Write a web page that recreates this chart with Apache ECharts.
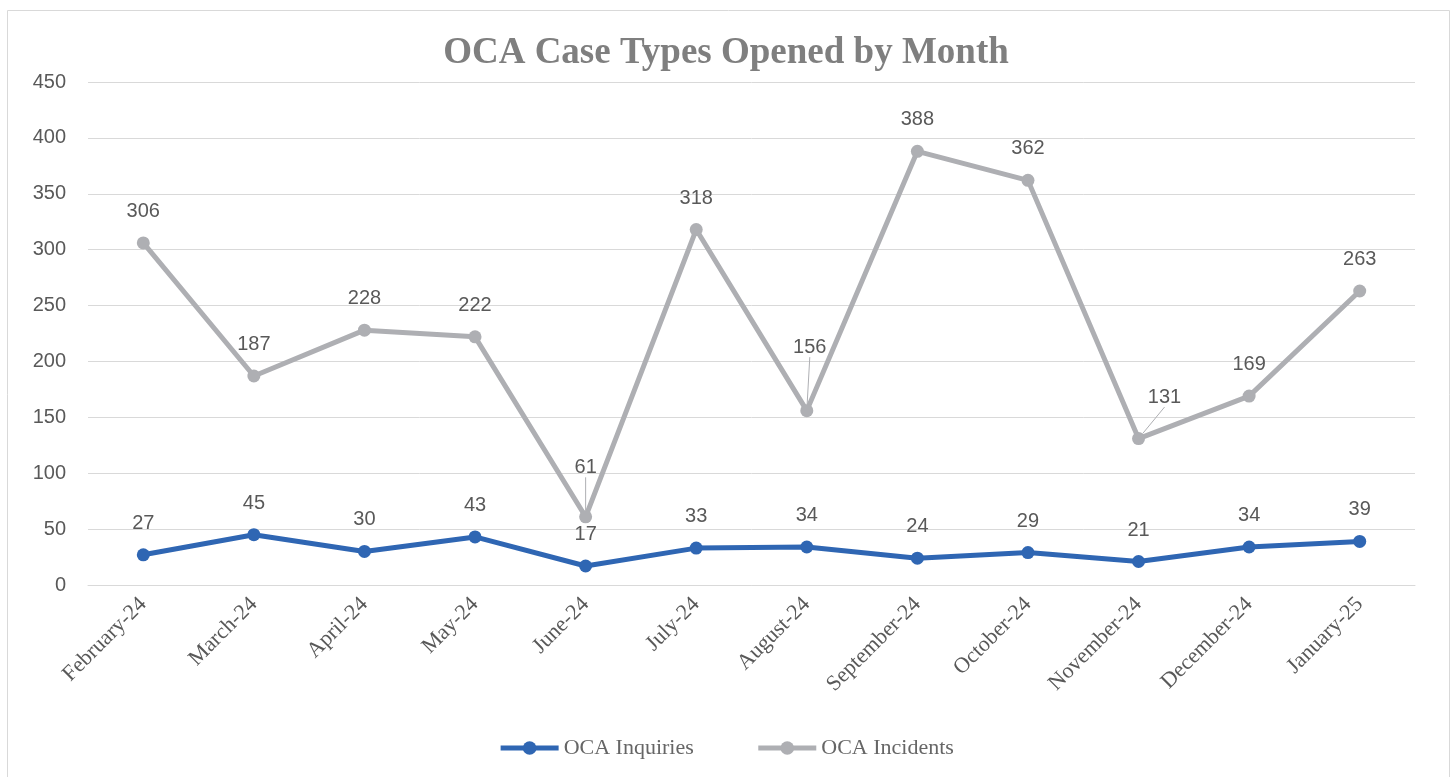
<!DOCTYPE html>
<html>
<head>
<meta charset="utf-8">
<script src="https://cdn.jsdelivr.net/npm/echarts@6/dist/echarts.min.js"></script>
<style>
  html, body { margin: 0; padding: 0; background: #fff; }
  #chart { width: 1452px; height: 777px; }
</style>
</head>
<body>
<div id="chart"></div>
<script>
// months on the x axis
const months = ['February-24', 'March-24', 'April-24', 'May-24', 'June-24', 'July-24',
  'August-24', 'September-24', 'October-24', 'November-24', 'December-24', 'January-25'];
const inquiries = [27, 45, 30, 43, 17, 33, 34, 24, 29, 21, 34, 39];
const incidents = [306, 187, 228, 222, 61, 318, 156, 388, 362, 131, 169, 263];
const yTicks = { min: 0, max: 450, step: 50 };

var chart = echarts.init(document.getElementById('chart'));

// a few incident labels are pushed off the point in the original, with a leader line
const incidentShift = { 4: { dx: 0, dy: -18 }, 6: { dx: 3, dy: -32 }, 9: { dx: 26, dy: -10 } };

function withLeaders(values, shift) {
    return values.map((v, i) => shift[i] ? { value: v, labelLine: { show: true } } : v);
}

const labelFont = { fontFamily: 'Liberation Sans', fontSize: 20, color: '#595959' };

chart.setOption({
    animation: false,
    graphic: [{
        type: 'rect', left: 5, top: 8,
        shape: { width: 1442, height: 790 },
        style: { fill: 'none', stroke: '#d9d9d9', lineWidth: 1 }
    }],
    title: {
        text: 'OCA Case Types Opened by Month',
        left: 'center', top: 30,
        textStyle: { fontFamily: 'Liberation Serif', fontWeight: 'bold', fontSize: 37, color: '#7f7f7f' }
    },
    legend: {
        bottom: 13, left: 'center', itemWidth: 58, itemHeight: 17, itemGap: 62,
        lineStyle: { width: 5 },
        textStyle: { fontFamily: 'Liberation Serif', fontSize: 22, color: '#666' }
    },
    grid: { left: 88, right: 37, top: 82, bottom: 192 },
    xAxis: {
        type: 'category', data: months,
        axisLine: { lineStyle: { color: '#d9d9d9' } },
        axisTick: { show: false },
        axisLabel: { rotate: 45, interval: 0, margin: 16, fontFamily: 'Liberation Serif', fontSize: 22, color: '#595959' }
    },
    yAxis: {
        type: 'value', min: yTicks.min, max: yTicks.max, interval: yTicks.step,
        axisLine: { show: false }, axisTick: { show: false },
        splitLine: { lineStyle: { color: '#d9d9d9' } },
        axisLabel: { margin: 22, fontFamily: 'Liberation Sans', fontSize: 20, color: '#595959' }
    },
    series: [{
        name: 'OCA Inquiries', type: 'line', data: inquiries,
        symbol: 'circle', symbolSize: 13,
        lineStyle: { width: 5, color: '#2f66b3' }, itemStyle: { color: '#2f66b3' },
        label: Object.assign({ show: true, position: 'top', distance: 15 }, labelFont)
    }, {
        name: 'OCA Incidents', type: 'line', data: withLeaders(incidents, incidentShift),
        symbol: 'circle', symbolSize: 13,
        lineStyle: { width: 5, color: '#aeafb3' }, itemStyle: { color: '#aeafb3' },
        label: Object.assign({ show: true, position: 'top', distance: 15 }, labelFont),
        labelLine: { show: false, lineStyle: { color: '#aeafb3', width: 1 } },
        labelLayout: p => incidentShift[p.dataIndex] || {}
    }]
});
</script>
</body>
</html>
